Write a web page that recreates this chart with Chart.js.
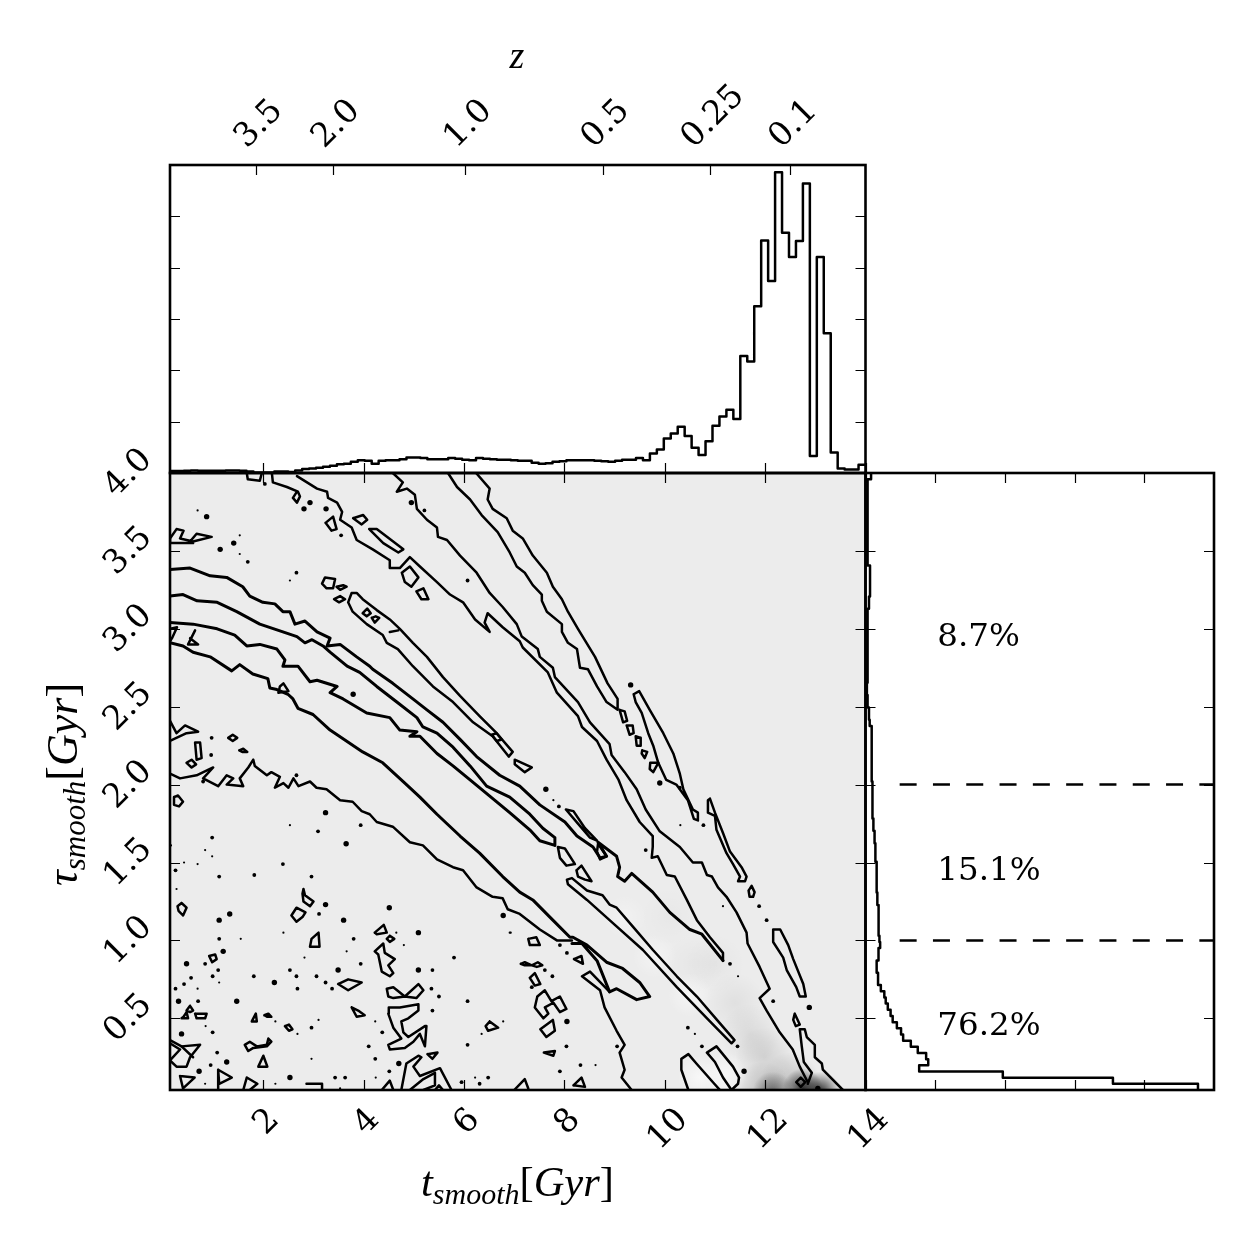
<!DOCTYPE html>
<html><head><meta charset="utf-8">
<style>html,body{margin:0;padding:0;background:#fff}canvas{position:absolute;left:0;top:0}</style>
<script src="https://cdn.jsdelivr.net/npm/chart.js@4"></script></head>
<body>
<canvas id="main" width="1250" height="1250"></canvas>
<canvas id="top" width="1250" height="1250"></canvas>
<canvas id="side" width="1250" height="1250"></canvas>
<script>
// axis ticks
const tTicks=[2,4,6,8,10,12,14];
const tauTicks=[0.5,1,1.5,2,2.5,3,3.5,4];
const tauLabels=["0.5","1.0","1.5","2.0","2.5","3.0","3.5","4.0"];
const zTimes=[1.85,3.39,6.02,8.76,10.9,12.5];
const zLabels=["3.5","2.0","1.0","0.5","0.25","0.1"];
const topCountTicks=[1,2,3,4,5];
const sideCountTicks=[1,2,3,4];
// marginal histograms
const tBinStart=0.14, tBinWidth=0.1386;
const tCounts=[.04,.04,.045,.05,.045,.045,.045,.045,.05,.05,.045,.03,.01,.01,.01,.03,.03,.02,.05,.08,.09,.10,.12,.14,.17,.18,.22,.25,.24,.18,.24,.25,.25,.27,.30,.30,.29,.27,.27,.27,.29,.28,.26,.25,.29,.28,.27,.26,.26,.25,.24,.24,.20,.18,.19,.22,.23,.25,.25,.25,.25,.24,.23,.22,.24,.26,.26,.29,.25,.38,.46,.67,.77,.90,.72,.49,.35,.62,.92,1.10,1.23,1.05,2.28,2.17,3.25,4.53,3.74,5.86,4.68,4.21,4.52,5.64,.33,4.21,2.72,.40,.09,.07,.07,.16];
const tauBinStart=0.04, tauBinWidth=0.0396;
const tauCounts=[4.77,3.55,1.97,.77,.90,.87,.75,.65,.54,.51,.45,.39,.36,.32,.29,.27,.22,.18,.18,.16,.16,.18,.19,.21,.20,.19,.19,.19,.19,.18,.17,.17,.16,.16,.16,.16,.16,.15,.14,.14,.13,.13,.12,.11,.10,.10,.10,.10,.10,.10,.09,.09,.09,.09,.09,.09,.09,.09,.08,.06,.05,.05,.03,.03,.02,.02,.03,.03,.03,.03,.03,.03,.03,.03,.03,.03,.03,.03,.05,.05,.065,.065,.065,.065,.065,.03,.03,.03,.03,.03,.03,.03,.03,.03,.03,.03,.03,.03,.03,.08];
const splitTau=[2,1];
const splitFrom=0.49, splitTo=5;
const percentLabels=["8.7%","15.1%","76.2%"];
const percentCount=[1.03,1.03,1.03];
const percentTau=[2.89,1.39,0.39];
// density image: bright and dark areas of the t-tau plane
const densityT=[12.75,13.1,12.15,11.95,12.5,12.0,11.7,11.4,11.0,10.5,9.8,9.2,10.7,11.2,10.6,10.1];
const densityTau=[.05,.03,.03,.03,.09,.25,.4,.6,.85,.65,.9,1.15,.12,.14,.85,1.15];
const densityLevel=[.75,.8,.45,.2,.18,.11,.08,.05,.03,-.5,-.4,-.3,-.6,-.6,.025,.02];
// contour lines, t,tau pairs
const contourA=[6.24,4.0,6.51,3.90,6.47,3.83,6.57,3.77,6.85,3.71,6.97,3.63,7.17,3.58,7.37,3.47,7.65,3.36,7.77,3.27,7.95,3.19,8.07,3.11,8.27,3.00,8.61,2.82,8.86,2.65,9.06,2.55,9.06,2.48,8.84,2.53,8.65,2.63,8.47,2.74,8.31,2.75,8.25,2.87,8.07,2.91,7.95,2.98,7.95,3.03,7.65,3.11,7.55,3.18,7.55,3.22,7.37,3.28,7.21,3.36,7.05,3.40,6.91,3.49,6.67,3.62,6.35,3.73,6.12,3.83,5.86,3.91,5.68,4.0];
const contourI=[4.58,4.0,4.78,3.94,4.66,3.88,4.86,3.90,5.02,3.86,5.06,3.77,5.26,3.70,5.46,3.65,5.48,3.59,5.66,3.57,5.92,3.47,6.25,3.36,6.51,3.23,6.77,3.14,7.05,3.03,7.15,2.95,7.47,2.87,7.51,2.82,7.77,2.75,7.81,2.69,8.27,2.53,8.51,2.40,8.90,2.26,8.94,2.19,9.20,2.08,9.44,1.97,9.62,1.84,9.90,1.70,10.30,1.60,10.56,1.50,10.74,1.50,10.84,1.42,10.94,1.41,11.06,1.34,11.23,1.28,11.43,1.18,11.63,1.05,11.65,.98,11.89,.83,12.09,.69,11.89,.63,12.03,.55,12.29,.41,12.55,.30,12.69,.19,12.85,.09];
const contourE=[13.55,.04,13.15,.17,13.13,.21,12.99,.25,12.99,.33,12.83,.38,12.79,.43,12.69,.43,12.73,.32,12.77,.22,12.93,.15,12.85,.08];
const contourJ=[2.67,3.98,3.07,3.90,3.27,3.88,3.29,3.84,3.47,3.81,3.57,3.75,3.53,3.70,3.76,3.65,3.86,3.57,4.18,3.51,4.52,3.44,4.52,3.39,4.72,3.39,4.92,3.46,5.12,3.40,5.46,3.30,5.72,3.22,5.98,3.17,6.22,3.06,6.51,2.98,6.41,3.04,6.47,3.10,6.77,3.01,7.11,2.92,7.17,2.88,7.67,2.72,7.85,2.59,8.27,2.44,8.35,2.37,8.65,2.28,8.84,2.16,9.08,2.03,9.24,1.90,9.50,1.76,9.76,1.67,9.76,1.60,9.74,1.53,9.86,1.54,10.04,1.42,10.20,1.41,10.44,1.26,10.64,1.13,10.90,1.02,11.16,.92,11.16,.87];
const contourM=[.14,3.38,.54,3.39,.94,3.34,1.27,3.33,1.59,3.27,1.73,3.21,1.99,3.17,2.23,3.16,2.39,3.11,2.53,3.11,2.63,3.03,2.83,3.05,3.07,2.98,3.33,2.94,3.27,2.89,3.53,2.90,3.86,2.82,4.12,2.76,4.18,2.74,4.58,2.65,4.98,2.55,5.26,2.48,5.58,2.40,5.92,2.29,6.25,2.18,6.71,2.06,7.11,1.99,7.51,1.87,8.01,1.76,8.25,1.67,8.57,1.60,8.71,1.53,8.84,1.54,8.67,1.63,9.04,1.54,9.10,1.47,9.06,1.41,9.20,1.38,9.34,1.43,9.76,1.31,10.10,1.18,10.50,1.07,10.74,1.04,11.16,.87];
const contourN=[.14,3.21,.40,3.22,.68,3.18,1.08,3.17,1.47,3.11,1.93,3.03,2.39,2.98,2.67,2.95,2.83,2.91,2.97,2.93,3.19,2.89,3.33,2.85,3.67,2.76,3.92,2.72,4.26,2.63,4.66,2.53,5.06,2.43,5.18,2.37,5.46,2.33,5.78,2.24,6.12,2.12,6.45,1.99,6.91,1.92,7.31,1.81,7.57,1.72,7.81,1.66,7.81,1.61,7.51,1.64,7.31,1.71,6.91,1.82,6.12,2.03,5.78,2.12,5.46,2.20,5.12,2.31,4.92,2.31,5.06,2.34,4.72,2.35,4.52,2.43,4.06,2.46,3.59,2.55,3.33,2.59,3.47,2.63,3.07,2.67,2.93,2.66,2.69,2.76,2.39,2.76,2.43,2.80,2.27,2.87,1.93,2.90,1.67,2.89,1.43,2.96,1.08,3.00,.60,3.03,.14,3.04];
const contourP=[.14,2.91,.40,2.89,.60,2.85,.94,2.82,1.37,2.73,1.53,2.77,1.79,2.71,2.09,2.68,2.13,2.62,2.27,2.61,2.49,2.58,2.59,2.55,2.69,2.49,2.99,2.45,3.33,2.35,3.98,2.21,4.38,2.14,4.82,2.01,5.12,1.92,5.46,1.81,5.92,1.67,6.31,1.56,6.77,1.41,7.11,1.31,7.37,1.26,7.77,1.13,8.11,1.02,8.17,1.02,8.45,.97,8.84,.86,9.16,.82,9.50,.73,9.70,.64,9.44,.62,9.04,.69,8.90,.67,8.65,.87,8.35,.98,8.15,.98];
const contourS=[.14,2.07,.34,2.04,.67,2.06,1.00,2.11,.80,2.04,1.10,1.99,1.27,2.06,1.40,2.04,1.27,2.0,1.60,1.99,1.53,2.04,1.70,2.11,1.80,2.16,1.83,2.12,2.07,2.06,2.16,2.08,2.33,2.05,2.23,1.98,2.40,2.01,2.50,1.98,2.60,2.04,2.70,1.99,2.93,2.02,3.06,1.98,3.26,1.97,3.53,1.90,3.78,1.89,3.96,1.83,4.12,1.81,4.26,1.76,4.58,1.73,4.92,1.63,5.18,1.61,5.46,1.52,5.78,1.47,5.98,1.45,6.25,1.34,6.57,1.28,6.77,1.27,6.87,1.20,7.11,1.17,7.51,1.07,7.85,1.00,8.15,1.00];
const contourS2=[8.90,.67,8.51,.80,8.35,.77,8.71,.68,8.80,.57,9.04,.42,9.20,.33,9.10,.28,9.20,.17,9.14,.12,9.34,.04];
const contourLoopA=[.14,2.41,.27,2.33,.44,2.38,.70,2.34,.47,2.33,.14,2.28];
const contourTangle=[.14,3.0,.28,3.01,.18,2.94,.14,2.92];
const contourTangle2=[.54,2.94,.70,2.90,.50,2.90,.64,2.99];
const contourTop1=[1.67,4.0,1.69,3.96,1.93,3.95,1.97,4.0];
const contourTop2=[2.17,4.0,2.19,3.94,2.47,3.91,2.69,3.88,2.73,3.85,2.67,3.81,2.59,3.84,2.67,3.88];
const contourCross=[.37,.32,.60,.25];
const contourBottom1=[10.47,.04,10.33,.17,10.33,.24,10.47,.27,10.63,.21,10.96,.09,11.10,.04];
const contourBottom2=[1.10,.17,1.37,.12,1.12,.08,1.10,.17,1.10,.04];
const contourBottom3=[1.60,.04,1.67,.12,1.88,.08,1.73,.04];
const contourBottom4=[2.86,.08,3.17,.08,3.17,.04];
const contourBottom5=[4.36,.04,4.52,.10,4.59,.04];
const contourBottom6=[4.75,.04,4.85,.21,5.09,.26,5.15,.25,4.99,.19,5.12,.13,5.52,.18,5.75,.04];
const contourBottom7=[4.92,.04,5.19,.11,5.42,.15,5.42,.07,5.19,.04];
const contourBottom8=[5.42,.04,5.50,.07,5.58,.04];
const contourBottom9=[7.0,.04,7.21,.11,7.28,.05];
const contourBottom10=[8.18,.07,8.34,.12,8.41,.06,8.18,.07];
const contourBottom11=[.34,.13,.63,.12,.40,.05,.34,.13];
const heavyContours=[contourM,contourN,contourP];
const openContours=[contourA,contourI,contourE,contourJ,contourS,contourS2,contourLoopA,contourTangle,contourTangle2,contourTop1,contourTop2,contourCross,contourBottom1,contourBottom2,contourBottom3,contourBottom4,contourBottom5,contourBottom6,contourBottom7,contourBottom8,contourBottom9,contourBottom10,contourBottom11];
// closed contour islands, t,tau pairs
const islandsUpper=[
[3.79,3.71,3.99,3.73,4.07,3.70,3.96,3.67],
[3.24,3.68,3.39,3.72,3.46,3.64,3.36,3.63],
[4.11,3.64,4.26,3.64,4.79,3.51,4.69,3.49,4.39,3.55],
[4.76,3.36,4.92,3.40,5.09,3.33,4.95,3.27,4.82,3.30],
[5.05,3.24,5.19,3.26,5.29,3.19,5.15,3.19],
[3.17,3.29,3.23,3.33,3.43,3.32,3.39,3.26,3.26,3.26],
[3.46,3.27,3.59,3.28,3.66,3.27,3.53,3.25],
[3.41,3.19,3.53,3.21,3.63,3.19,3.51,3.17],
[3.98,3.10,4.07,3.13,4.14,3.10,4.06,3.08],
[4.16,3.07,4.24,3.08,4.31,3.07,4.22,3.04],
[4.52,2.98,4.69,2.99],
[6.55,2.32,6.65,2.33,6.75,2.29,6.65,2.28],
[7.01,2.16,7.35,2.11,7.21,2.08,7.01,2.13],
[3.76,3.23,3.86,3.23,3.98,3.19,4.26,3.12,4.52,3.06,4.72,3.00,4.98,2.91,5.26,2.82,5.58,2.69,5.92,2.57,6.31,2.44,6.65,2.33,6.97,2.21,6.89,2.18,6.57,2.31,6.18,2.40,5.78,2.53,5.38,2.63,4.98,2.76,4.68,2.87,4.46,2.91,4.38,2.96,4.06,3.03,3.78,3.11,3.69,3.17],
[.14,3.58,.27,3.64,.41,3.63,.34,3.58,.60,3.56,.97,3.59,.67,3.61,.54,3.56,.60,3.55,.14,3.55],
[2.33,2.63,2.40,2.65,2.50,2.60,2.30,2.59],
[.64,2.27,.74,2.27,.77,2.17,.67,2.16],
[.47,2.14,.57,2.16,.66,2.13,.57,2.11],
[1.30,2.30,1.39,2.32,1.48,2.30,1.39,2.28],
[1.52,2.22,1.60,2.23,1.68,2.21,1.58,2.21],
[.22,1.92,.30,1.93,.40,1.89,.32,1.86,.22,1.87]
];
const islandsRidge=[
[9.10,2.48,9.20,2.47,9.25,2.41,9.17,2.40],
[9.24,2.38,9.36,2.38,9.38,2.33,9.30,2.32],
[9.42,2.31,9.52,2.30,9.52,2.25,9.44,2.25],
[9.55,2.22,9.65,2.21,9.60,2.17,9.54,2.20],
[9.71,2.14,9.87,2.14,9.77,2.08,9.70,2.10],
[9.38,2.58,9.42,2.53,9.54,2.46,9.67,2.33,9.77,2.25,9.87,2.14,10.03,2.03,10.23,2.00,10.46,1.90,10.58,1.78,10.66,1.77,10.66,1.82,10.56,1.84,10.37,1.97,10.30,2.07,10.17,2.20,9.97,2.33,9.70,2.48,9.49,2.60],
[10.90,1.91,11.0,1.82,11.16,1.69,11.30,1.57,11.53,1.47,11.63,1.41,11.60,1.38,11.46,1.38,11.50,1.41,11.36,1.49,11.23,1.56,11.03,1.71,11.0,1.80,10.86,1.82,10.86,1.90],
[11.67,1.32,11.73,1.35,11.79,1.31,11.76,1.28,11.69,1.28],
[12.16,1.07,12.30,1.07,12.46,.97,12.56,.88,12.76,.72,12.81,.64,12.69,.64,12.62,.70,12.43,.81,12.36,.89,12.16,.99],
[12.59,.53,12.69,.46,12.61,.45,12.56,.49],
[12.62,.09,12.71,.12,12.80,.09,12.71,.06],
[7.87,1.60,8.01,1.59,8.21,1.49,8.04,1.48,7.91,1.53],
[8.24,1.45,8.34,1.48,8.54,1.38,8.41,1.39,8.27,1.41],
[8.03,1.84,8.18,1.83,8.41,1.72,8.65,1.64,8.51,1.66,8.27,1.75],
[8.67,1.62,8.84,1.54,8.71,1.52,8.65,1.57],
[8.05,1.39,8.15,1.40,8.45,1.32,8.76,1.29,8.90,1.23,9.04,1.21,9.36,1.09,9.76,.94,10.24,.77,10.64,.64,11.04,.49,11.39,.36,11.33,.34,10.90,.48,10.24,.70,9.56,.94,8.90,1.13,8.45,1.26,8.07,1.36],
[10.84,.28,11.03,.32,11.36,.19,11.48,.12,11.46,.08,11.33,.04,11.16,.12,11.0,.22]
];
const islandsLower=[
[.37,1.24,.47,1.21,.40,1.16,.31,1.19,.29,1.22],
[2.56,1.16,2.66,1.21,2.84,1.18,2.78,1.15,2.66,1.12],
[2.80,1.33,2.83,1.29,3.0,1.25,2.93,1.22,2.80,1.25,2.78,1.30],
[3.10,1.05,3.12,.96,2.93,.96,2.96,1.01],
[4.22,1.05,4.40,1.10,4.46,1.05,4.26,1.04],
[4.52,1.03,4.61,1.01,4.52,.99,4.46,1.01],
[.92,.90,1.04,.91,1.07,.88,.98,.86],
[4.22,.93,4.39,.98,4.42,.92,4.62,.88,4.49,.84,4.59,.79,4.52,.77,4.36,.80,4.29,.91],
[3.49,.72,3.69,.75,3.96,.73,3.69,.68],
[4.46,.69,4.59,.70,4.82,.64,5.09,.72,5.19,.68,5.05,.63,4.82,.64,4.59,.63,4.49,.64],
[3.76,.57,3.89,.55,4.02,.52,3.86,.51],
[4.50,.57,4.72,.57,5.09,.59,5.09,.55,4.89,.50,4.75,.48,4.79,.41,4.89,.38,5.22,.45,5.25,.45,5.22,.32,5.12,.40,4.99,.35,4.82,.31,4.52,.30,4.49,.33,4.75,.37,4.59,.44,4.49,.53],
[6.51,.48,6.68,.44,6.48,.42,6.43,.45],
[5.27,.27,5.47,.28,5.37,.24],
[1.77,.48,1.85,.53,1.87,.48],
[2.02,.52,2.10,.53,2.16,.51,2.08,.51],
[.41,.51,.47,.54,.50,.50,.37,.50],
[.54,.58,.60,.55,.54,.54,.47,.55],
[.64,.53,.87,.53,.84,.50,.67,.50],
[1.63,.33,1.73,.35,1.87,.32,2.07,.33,2.10,.37,2.16,.35,2.07,.32,1.80,.31,1.70,.29],
[1.90,.19,2.0,.26,2.08,.19],
[2.43,.45,2.51,.46,2.58,.43,2.51,.42],
[.14,.36,.37,.32,.74,.33,.54,.25,.47,.19,.27,.19,.14,.23,.34,.30,.14,.34],
[7.28,1.01,7.44,1.02,7.51,.97,7.31,.97],
[8.19,.88,8.34,.90,8.37,.85],
[7.13,.85,7.21,.86,7.35,.84,7.47,.86,7.56,.84,7.45,.83,7.35,.84,7.21,.84],
[7.31,.76,7.41,.79,7.52,.72,7.41,.71],
[7.46,.64,7.61,.68,7.74,.61,7.91,.64,8.04,.56,7.91,.54,7.78,.60,7.61,.57,7.68,.53,7.58,.50,7.41,.57],
[7.52,.43,7.77,.49,7.81,.42,7.64,.38],
[7.59,.28,7.81,.29,7.78,.26]
];
const islands=[...islandsUpper,...islandsRidge,...islandsLower];
// isolated contour specks, t,tau pairs, by size
const specksLarge=[3.24,1.82,3.65,1.62,3.24,1.23,4.51,1.21,6.78,1.16,1.12,1.13,1.33,1.17,3.60,1.13,5.09,1.05,1.20,.93,.47,.85,3.49,.81,5.09,.81,2.22,.73,.31,.61,1.47,.61,.37,.40,1.27,.22,.72,.16,2.53,.12,4.70,.21,7.63,1.97,8.05,.48,12.88,.57,11.58,.16,13.05,.05,9.90,2.01,3.79,2.58,2.93,3.81,2.81,3.77,3.25,3.77,.87,3.72,1.41,3.55,1.14,3.51,4.95,3.81,9.32,2.64];
const specksMedium=[.98,1.66,3.09,1.70,3.94,1.74,.25,1.45,1.12,1.41,1.82,1.42,2.39,1.49,2.96,1.41,3.11,1.17,1.12,1.01,3.80,1.01,5.80,.89,2.53,.81,1.10,.81,1.81,.77,2.66,.77,3.06,.77,.99,.77,.56,.76,.42,.72,3.24,.73,3.37,.69,.25,.69,6.07,.61,5.37,.55,.99,.41,2.96,.44,4.10,.32,6.07,.33,1.08,.28,4.23,.24,.95,.20,4.51,.16,6.48,.12,5.95,.09,.84,.85,3.94,.85,2.68,.69,5.50,.64,5.37,.81,.70,.61,4.37,.41,3.43,.12,3.63,.12,6.31,.08,5.35,.69,7.89,1.86,7.91,.97,8.05,.92,7.61,.81,7.76,.77,7.35,.70,8.04,.32,8.32,.20,7.91,.16,9.05,.32,10.74,.32,11.45,.32,11.30,.85,9.62,1.58,10.77,1.74,11.88,1.22,12.03,1.13,12.16,.61,10.46,.44,.97,2.30,.96,2.19,.80,2.02,2.66,2.06,1.69,3.43,2.66,3.36,6.07,3.31,5.21,3.76,3.55,3.60,2.03,3.93,10.30,1.98];
const specksSmall=[2.53,1.74,.84,1.58,.98,1.54,.16,1.61,.42,1.50,.69,1.49,.27,1.33,2.40,1.05,1.55,1.01,4.65,1.05,4.80,.97,6.93,1.05,2.82,.89,3.66,.93,1.12,.73,.69,.69,2.24,.48,3.10,.49,4.23,.48,6.78,.48,.85,.45,2.68,.40,6.35,.40,2.96,.24,.84,.08,2.24,.08,4.24,.12,6.22,.12,3.53,.05,7.78,1.90,6.91,1.05,8.62,.20,10.60,.40,11.46,.77,11.16,1.22,10.31,1.74,.69,3.76,1.53,3.60,1.53,3.48,2.53,3.31];

const toPoints=f=>{const o=[];for(let i=0;i<f.length;i+=2)o.push({x:f[i],y:f[i+1]});return o;};
const INK='#000';
const lineSet=(pts,w)=>({type:'scatter',data:pts,showLine:true,borderColor:INK,borderWidth:w||2.5,pointRadius:0,tension:0,fill:false,borderJoinStyle:'round',borderCapStyle:'round'});
const dotSet=(pts,r)=>({type:'scatter',data:pts,showLine:false,pointRadius:r,pointBorderWidth:0,pointBackgroundColor:INK,backgroundColor:INK});
const closed=a=>toPoints(a.length>4?[...a,a[0],a[1]]:a);

function boxArea(left,top,right,bottom){return {left,top,right:1250-right,bottom:1250-bottom};}
const baseOpts=(padding,xr,yr)=>({responsive:false,animation:false,devicePixelRatio:1,
  layout:{padding},
  plugins:{legend:{display:false},tooltip:{enabled:false}},
  scales:{x:{type:'linear',display:false,min:xr[0],max:xr[1]},y:{type:'linear',display:false,min:yr[0],max:yr[1]}}});

function frameAndTicks(c,xBottom,xTop,yVals,len){
  const {ctx,chartArea:a,scales:{x,y}}=c;
  ctx.save();ctx.strokeStyle=INK;ctx.lineWidth=1.2;ctx.beginPath();
  xBottom.forEach(v=>{const p=Math.round(x.getPixelForValue(v))+.5;ctx.moveTo(p,a.bottom);ctx.lineTo(p,a.bottom-len);});
  xTop.forEach(v=>{const p=Math.round(x.getPixelForValue(v))+.5;ctx.moveTo(p,a.top);ctx.lineTo(p,a.top+len);});
  yVals.forEach(v=>{const p=Math.round(y.getPixelForValue(v))+.5;ctx.moveTo(a.left,p);ctx.lineTo(a.left+len,p);ctx.moveTo(a.right,p);ctx.lineTo(a.right-len,p);});
  ctx.stroke();
  ctx.lineWidth=2.6;ctx.strokeRect(a.left,a.top,a.right-a.left,a.bottom-a.top);
  ctx.restore();
}
const TICK_FONT='33px "DejaVu Serif"';
function rotatedLabel(ctx,text,cx,cy){
  ctx.save();ctx.font=TICK_FONT;ctx.fillStyle=INK;ctx.textAlign='center';ctx.textBaseline='alphabetic';
  ctx.translate(cx,cy);ctx.rotate(-Math.PI/4);ctx.fillText(text,0,12);ctx.restore();
}
function side(ctx,text){ctx.save();ctx.font=TICK_FONT;const w=ctx.measureText(text).width;ctx.restore();return (w+24)*Math.SQRT1_2;}
function runs(ctx,parts,x,y){
  parts.forEach(p=>{ctx.font=p[1];ctx.fillText(p[0],x,y+(p[2]||0));x+=ctx.measureText(p[0]).width;});
}
const MI='italic 42.5px "Liberation Serif"',SUB='italic 30px "Liberation Serif"',RM='42.5px "Liberation Serif"';
const MI2='italic 44px "Liberation Serif"',SUB2='italic 31px "Liberation Serif"',RM2='44px "Liberation Serif"';

// main panel
const mainPlugin={id:'mainPanel',
 beforeDatasetsDraw(c){
  const {ctx,chartArea:a,scales:{x,y}}=c;
  ctx.save();ctx.beginPath();ctx.rect(a.left,a.top,a.right-a.left,a.bottom-a.top);ctx.clip();
  ctx.fillStyle='#ececec';ctx.fillRect(a.left,a.top,a.right-a.left,a.bottom-a.top);
  densityT.forEach((t,i)=>{
    const px=x.getPixelForValue(t),py=y.getPixelForValue(densityTau[i]),lv=densityLevel[i];
    const r=lv>.4?20:lv>0?30:22;
    const rgb=lv>0?'0,0,0':'255,255,255',al=Math.abs(lv);
    const g=ctx.createRadialGradient(px,py,0,px,py,r);
    g.addColorStop(0,`rgba(${rgb},${al})`);g.addColorStop(.55,`rgba(${rgb},${al*.45})`);g.addColorStop(1,`rgba(${rgb},0)`);
    ctx.fillStyle=g;ctx.fillRect(px-r,py-r,2*r,2*r);
  });
  ctx.restore();
 },
 afterDraw(c){
  const {ctx,scales:{x,y}}=c;
  frameAndTicks(c,tTicks,tTicks,tauTicks,10);
  tTicks.forEach(v=>{const t=String(v),s=side(ctx,t);rotatedLabel(ctx,t,x.getPixelForValue(v)+1,1104+s/2);});
  tauTicks.forEach((v,i)=>{const t=tauLabels[i],s=side(ctx,t);rotatedLabel(ctx,t,153-s/2,y.getPixelForValue(v)-2);});
  ctx.save();ctx.fillStyle=INK;ctx.textBaseline='alphabetic';ctx.textAlign='left';
  runs(ctx,[['t',MI],['smooth',SUB,8],['[',RM],['Gyr',MI],[']',RM]],421,1196);
  ctx.translate(77,886);ctx.rotate(-Math.PI/2);
  runs(ctx,[['τ',MI2],['smooth',SUB2,8],['[',RM2],['Gyr',MI2],[']',RM2]],0,0);
  ctx.restore();
 }};
new Chart(document.getElementById('main'),{type:'scatter',
 data:{datasets:[...heavyContours.map(f=>lineSet(toPoints(f),3)),...openContours.map(f=>lineSet(toPoints(f))),...islands.map(f=>lineSet(closed(f))),
   dotSet(toPoints(specksLarge),2.7),dotSet(toPoints(specksMedium),1.9),dotSet(toPoints(specksSmall),1.1)]},
 options:baseOpts(boxArea(170,473,865.5,1090),[0.14,14],[0.04,4]),plugins:[mainPlugin]});

// top marginal
const tSteps=[];tCounts.forEach((v,i)=>{tSteps.push({x:tBinStart+i*tBinWidth,y:v},{x:tBinStart+(i+1)*tBinWidth,y:v});});
const topPlugin={id:'topPanel',afterDraw(c){
  const {ctx,scales:{x}}=c;
  frameAndTicks(c,tTicks,zTimes,topCountTicks,10);
  zTimes.forEach((v,i)=>{const t=zLabels[i],s=side(ctx,t);rotatedLabel(ctx,t,x.getPixelForValue(v)+1,149-s/2);});
  ctx.save();ctx.fillStyle=INK;ctx.font='italic 38px "Liberation Serif"';ctx.textAlign='center';ctx.textBaseline='alphabetic';
  ctx.fillText('z',517,68);ctx.restore();
}};
new Chart(document.getElementById('top'),{type:'scatter',data:{datasets:[lineSet(tSteps)]},
 options:baseOpts(boxArea(170,165,865.5,473),[0.14,14],[0,6]),plugins:[topPlugin]});

// right marginal
const tauSteps=[];tauCounts.forEach((v,i)=>{tauSteps.push({x:v,y:tauBinStart+i*tauBinWidth},{x:v,y:tauBinStart+(i+1)*tauBinWidth});});
const sidePlugin={id:'sidePanel',afterDraw(c){
  const {ctx,scales:{x,y}}=c;
  frameAndTicks(c,sideCountTicks,sideCountTicks,tauTicks,10);
  ctx.save();ctx.fillStyle=INK;ctx.font='32.5px "DejaVu Serif"';ctx.textAlign='left';ctx.textBaseline='alphabetic';
  percentLabels.forEach((t,i)=>ctx.fillText(t,x.getPixelForValue(percentCount[i]),y.getPixelForValue(percentTau[i])));
  ctx.restore();
}};
new Chart(document.getElementById('side'),{type:'scatter',data:{datasets:[
   lineSet(tauSteps),
   ...splitTau.map(v=>({...lineSet([{x:splitFrom,y:v},{x:splitTo,y:v}]),borderDash:[17,16.3],borderCapStyle:'butt'}))]},
 options:baseOpts(boxArea(865.5,473,1214,1090),[0,5],[0.04,4]),plugins:[sidePlugin]});
</script>
</body></html>
